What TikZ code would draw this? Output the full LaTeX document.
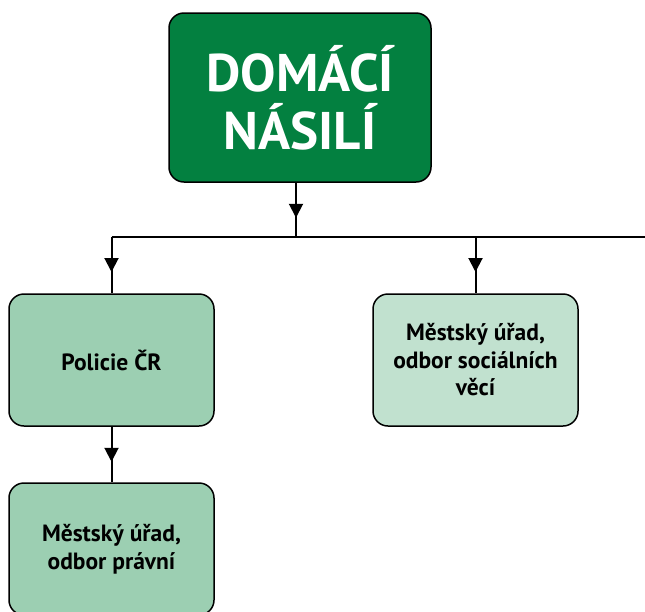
\documentclass[tikz,border=0pt]{standalone}
\usepackage{fontspec}
\setmainfont{PT Sans}
\usetikzlibrary{arrows.meta,decorations.markings}
\definecolor{dkgreen}{RGB}{3,128,64}
\definecolor{midgreen}{RGB}{156,207,178}
\definecolor{ltgreen}{RGB}{193,225,207}
\begin{document}
\begin{tikzpicture}[x=1pt,y=-1pt,
  box/.style={draw=black, line width=1.5pt, rounded corners=15pt, inner sep=0pt, align=center,
    minimum width=205pt, minimum height=132pt, font=\bfseries\fontsize{23.5}{27.5}\selectfont},
  conn/.style={line width=2pt},
  midarrow/.style={postaction={decorate}, decoration={markings,
    mark=at position 35pt with {\arrow{Triangle[width=14pt,length=14pt]}}}}]
\useasboundingbox (0,0) rectangle (645,611);
\node[box, fill=dkgreen, text=white, minimum width=262pt, minimum height=169pt,
  font=\bfseries\fontsize{53}{58}\selectfont] (top) at (300,97.5) {DOMÁCÍ\\NÁSILÍ};
\node[box, fill=midgreen] (police) at (111.5,360) {Policie ČR};
\node[box, fill=ltgreen] (social) at (475.5,360) {Městský úřad,\\odbor sociálních\\věcí};
\node[box, fill=midgreen] (legal) at (111.5,549) {Městský úřad,\\odbor právní};
\coordinate (j) at (296,237);
\coordinate (hl) at (police.north |- j);
\coordinate (hr) at (650,237);
\draw[conn, midarrow] (top.south -| j) -- (j);
\draw[conn] (hl) -- (hr);
\draw[conn, midarrow] (hl) -- (police.north);
\draw[conn, midarrow] (social.north |- j) -- (social.north);
\draw[conn, midarrow] (police.south) -- (legal.north);
\end{tikzpicture}
\end{document}
